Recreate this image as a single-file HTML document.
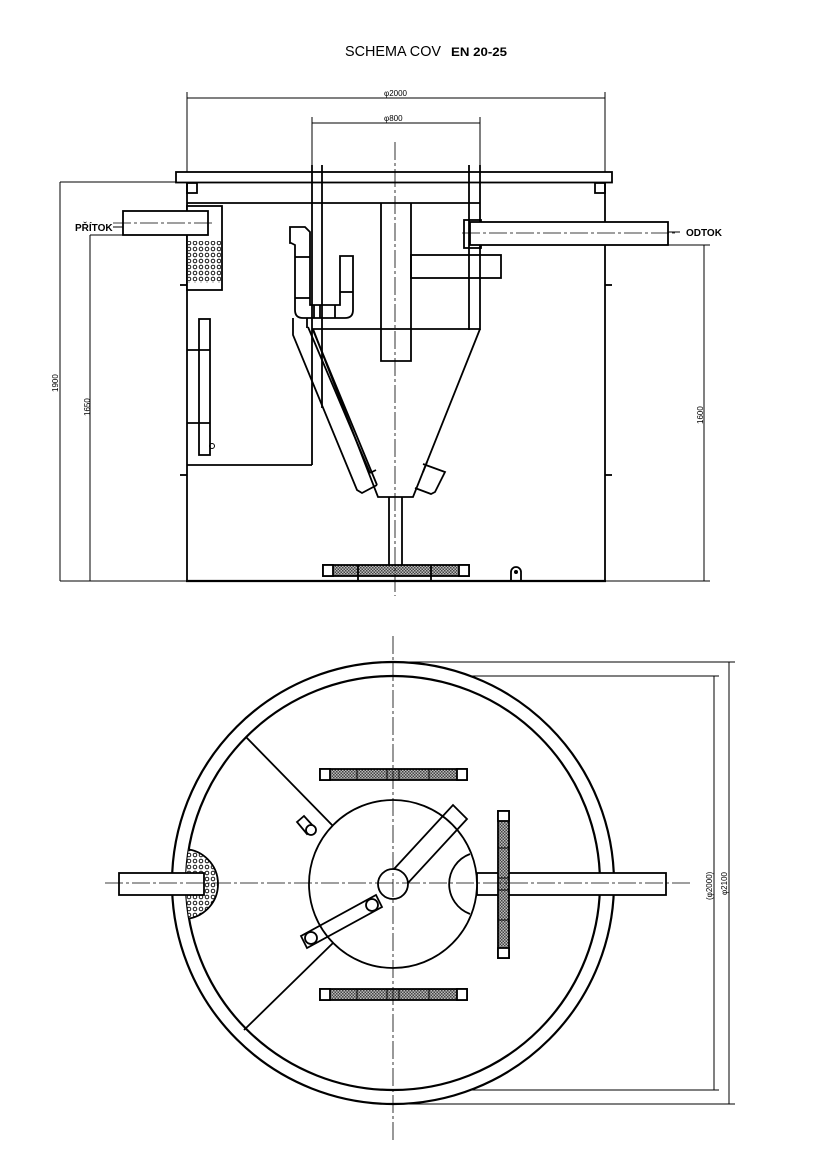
<!DOCTYPE html>
<html><head><meta charset="utf-8"><style>
html,body{margin:0;padding:0;background:#fff}
svg{display:block}
text{font-family:"Liberation Sans",sans-serif;fill:#000}
</style></head><body>
<svg width="826" height="1169" viewBox="0 0 826 1169" xmlns="http://www.w3.org/2000/svg">
<defs>
<pattern id="hatch" width="3" height="3" patternUnits="userSpaceOnUse">
<rect width="3" height="3" fill="#bbb"/><rect width="1.5" height="1.5" fill="#444"/><rect x="1.5" y="1.5" width="1.5" height="1.5" fill="#444"/>
</pattern>
<pattern id="perf" width="6" height="6" patternUnits="userSpaceOnUse">
<rect width="6" height="6" fill="#fff"/><circle cx="3" cy="3" r="1.8" fill="none" stroke="#000" stroke-width="0.9"/>
</pattern>
<clipPath id="innerc"><circle cx="393" cy="883" r="207"/></clipPath>
</defs>

<text x="345" y="56" font-size="15" textLength="96" lengthAdjust="spacingAndGlyphs">SCHEMA COV</text>
<text x="451" y="56" font-size="12" font-weight="bold" textLength="56" lengthAdjust="spacingAndGlyphs">EN 20-25</text>

<g fill="none" stroke="#000" stroke-width="1">
<line x1="187" y1="92" x2="187" y2="172"/><line x1="605" y1="92" x2="605" y2="172"/>
<line x1="187" y1="98" x2="605" y2="98"/>
<line x1="312" y1="117" x2="312" y2="165"/><line x1="480" y1="117" x2="480" y2="165"/>
<line x1="312" y1="123" x2="480" y2="123"/>
<line x1="60" y1="182" x2="176" y2="182"/>
<line x1="60" y1="182" x2="60" y2="581"/>
<line x1="90" y1="235" x2="123" y2="235"/>
<line x1="90" y1="235" x2="90" y2="581"/>
<line x1="60" y1="581" x2="187" y2="581"/>
<line x1="668" y1="245" x2="710" y2="245"/>
<line x1="704" y1="245" x2="704" y2="581"/>
<line x1="605" y1="581" x2="710" y2="581"/>
<line x1="113" y1="227" x2="123" y2="227"/><line x1="668" y1="232" x2="680" y2="232"/>
</g>
<text x="384" y="96" font-size="8">φ2000</text>
<text x="384" y="121" font-size="8">φ800</text>
<text transform="translate(58,392) rotate(-90)" font-size="8">1900</text>
<text transform="translate(90,416) rotate(-90)" font-size="8">1650</text>
<text transform="translate(703,424) rotate(-90)" font-size="8">1600</text>
<text x="75" y="231" font-size="10" font-weight="bold">PŘÍTOK</text>
<text x="686" y="236" font-size="10" font-weight="bold">ODTOK</text>

<g fill="none" stroke="#000" stroke-width="1.8">
<rect x="176" y="172" width="436" height="10.5"/>
<rect x="187" y="183" width="10" height="10"/><rect x="595" y="183" width="10" height="10"/>
<line x1="187" y1="183" x2="187" y2="581"/><line x1="605" y1="183" x2="605" y2="581"/>
<line x1="186" y1="581" x2="606" y2="581" stroke-width="2.2"/>
<line x1="180" y1="285" x2="187" y2="285"/><line x1="180" y1="475" x2="187" y2="475"/>
<line x1="605" y1="285" x2="612" y2="285"/><line x1="605" y1="475" x2="612" y2="475"/>
<line x1="187" y1="203" x2="480" y2="203"/>
<rect x="187" y="206" width="35" height="84" fill="#fff"/>
<rect x="188" y="241" width="33" height="42" fill="url(#perf)" stroke="none"/>
<rect x="123" y="211" width="85" height="24" fill="#fff"/>
<rect x="199" y="319" width="11" height="136"/>
<line x1="187" y1="350" x2="210" y2="350"/><line x1="187" y1="423" x2="210" y2="423"/>
<circle cx="212" cy="446" r="2.5" stroke-width="1"/>
<line x1="312" y1="165" x2="312" y2="465"/><line x1="187" y1="465" x2="312" y2="465"/>
<line x1="322" y1="165" x2="322" y2="408"/>
<line x1="469" y1="165" x2="469" y2="330"/><line x1="480" y1="165" x2="480" y2="330"/>
<line x1="312" y1="329" x2="480" y2="329"/>
<polyline points="313,329 378,497 413,497 480,329"/>
<polyline points="381,203 381,361 411,361 411,203"/>
<rect x="411" y="255" width="90" height="23"/>
<rect x="464" y="220" width="17" height="28"/>
<rect x="470" y="222" width="198" height="23" fill="#fff"/>
<path d="M290,227 L305,227 L308,230 L310,232 L310,305 L340,305 L340,256 L353,256 L353,310 Q353,318 345,318 L303,318 Q295,318 295,310 L295,245 L291,243 L290,243 Z"/>
<line x1="295" y1="257" x2="310" y2="257"/><line x1="295" y1="298" x2="310" y2="298"/>
<line x1="340" y1="292" x2="353" y2="292"/>
<line x1="314" y1="305" x2="314" y2="318"/><line x1="320" y1="305" x2="320" y2="318"/><line x1="335" y1="305" x2="335" y2="318"/>
<polyline points="293,318 293,335 357,490 362,493 377,485"/>
<line x1="307" y1="318" x2="307" y2="328"/>
<line x1="308" y1="327" x2="370" y2="473"/>
<line x1="313" y1="330" x2="377" y2="485"/>
<line x1="370" y1="473" x2="376" y2="470"/>
<polyline points="423,464 445,472 435,492 431,494 415,488"/>
<line x1="427" y1="462" x2="423" y2="472"/>
<line x1="389" y1="497" x2="389" y2="566"/><line x1="402" y1="497" x2="402" y2="566"/>
<rect x="323" y="565" width="146" height="11" fill="url(#hatch)"/>
<rect x="323" y="565" width="10" height="11" fill="#fff"/><rect x="459" y="565" width="10" height="11" fill="#fff"/>
<line x1="358" y1="565" x2="358" y2="581"/><line x1="431" y1="565" x2="431" y2="581"/>
<path d="M511,581 L511,572 A5,5 0 0 1 521,572 L521,581" />
</g>
<circle cx="516" cy="572" r="2" fill="#000"/>
<g fill="none" stroke="#000" stroke-width="0.8" stroke-dasharray="18,3,3,3">
<line x1="395" y1="142" x2="395" y2="596"/>
<line x1="113" y1="223" x2="215" y2="223"/>
<line x1="462" y1="233" x2="676" y2="233"/>
</g>

<g fill="none" stroke="#000" stroke-width="1">
<line x1="393" y1="662" x2="735" y2="662"/><line x1="393" y1="1104" x2="735" y2="1104"/>
<line x1="393" y1="676" x2="719" y2="676"/><line x1="393" y1="1090" x2="719" y2="1090"/>
<line x1="729" y1="662" x2="729" y2="1104"/><line x1="714" y1="676" x2="714" y2="1090"/>
</g>
<text transform="translate(712,900) rotate(-90)" font-size="8">(φ2000)</text>
<text transform="translate(727,895) rotate(-90)" font-size="8">φ2100</text>

<g fill="none" stroke="#000" stroke-width="1.8">
<circle cx="393" cy="883" r="221" fill="#fff" stroke-width="2.2"/>
<circle cx="393" cy="883" r="207" stroke-width="2.2"/>
<circle cx="183" cy="884" r="35" fill="url(#perf)" clip-path="url(#innerc)"/>
<rect x="119" y="873" width="85" height="22" fill="#fff"/>
<rect x="477" y="873" width="189" height="22" fill="#fff"/>
<line x1="246" y1="737" x2="333" y2="826"/>
<line x1="333" y1="943" x2="244" y2="1030"/>
<circle cx="393" cy="884" r="84" fill="#fff"/>
<path d="M470,854 A32,32 0 0 0 470,914"/>
<polygon points="394,869 453,805 467,819 408,883"/>
<circle cx="393" cy="884" r="15" fill="#fff"/>
<polygon points="376,895 382,907 307,948 301,936"/>
<circle cx="372" cy="905" r="6" fill="#fff"/>
<circle cx="311" cy="938" r="6"/>
<polygon points="297,822 304,816 314,827 307,834"/>
<circle cx="311" cy="830" r="5" fill="#fff"/>
<rect x="320" y="769" width="147" height="11" fill="url(#hatch)"/>
<rect x="320" y="769" width="10" height="11" fill="#fff"/><rect x="457" y="769" width="10" height="11" fill="#fff"/>
<rect x="320" y="989" width="147" height="11" fill="url(#hatch)"/>
<rect x="320" y="989" width="10" height="11" fill="#fff"/><rect x="457" y="989" width="10" height="11" fill="#fff"/>
<rect x="498" y="811" width="11" height="147" fill="url(#hatch)"/>
<rect x="498" y="811" width="11" height="10" fill="#fff"/><rect x="498" y="948" width="11" height="10" fill="#fff"/>
</g>
<g stroke="#000" stroke-width="1">
<line x1="357" y1="769" x2="357" y2="780"/><line x1="387" y1="769" x2="387" y2="780"/><line x1="399" y1="769" x2="399" y2="780"/><line x1="429" y1="769" x2="429" y2="780"/>
<line x1="357" y1="989" x2="357" y2="1000"/><line x1="387" y1="989" x2="387" y2="1000"/><line x1="399" y1="989" x2="399" y2="1000"/><line x1="429" y1="989" x2="429" y2="1000"/>
<line x1="498" y1="848" x2="509" y2="848"/><line x1="498" y1="878" x2="509" y2="878"/><line x1="498" y1="890" x2="509" y2="890"/><line x1="498" y1="920" x2="509" y2="920"/>
</g>
<g fill="none" stroke="#000" stroke-width="0.8" stroke-dasharray="18,3,3,3">
<line x1="393" y1="636" x2="393" y2="1140"/>
<line x1="105" y1="883" x2="690" y2="883"/>
</g>
</svg>
</body></html>
